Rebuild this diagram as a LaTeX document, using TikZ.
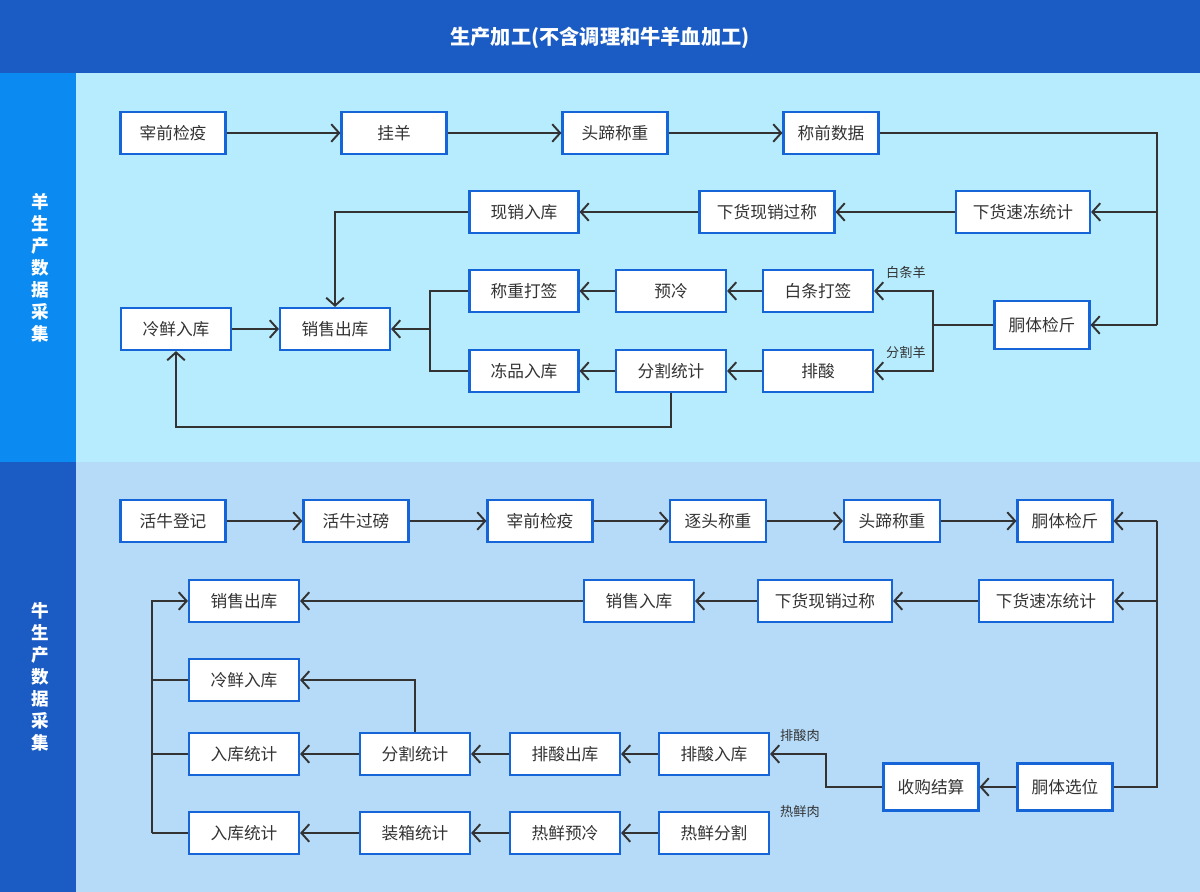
\documentclass[tikz,border=0pt]{standalone}
\usepackage{fontspec}
\setmainfont{Noto Sans CJK SC}
\usetikzlibrary{arrows.meta}
\definecolor{barblue}{HTML}{1A5BC4}
\definecolor{stripblue}{HTML}{0B8AF2}
\definecolor{skycyan}{HTML}{B6ECFD}
\definecolor{paleblue}{HTML}{B5DBF9}
\definecolor{boxline}{HTML}{1565D8}
\definecolor{wire}{HTML}{333333}
\tikzset{
  box/.style={draw=boxline, line width=1.2pt, fill=white, minimum width=2.1cm, minimum height=0.84cm, inner sep=1pt, text=wire, font=\fontsize{9.5}{11}\selectfont},
  flow/.style={draw=wire, line width=1.1pt, -{Straight Barb[length=4.5pt,width=10pt,line width=1.1pt]}},
  line/.style={draw=wire, line width=1.1pt},
  tag/.style={text=wire, font=\fontsize{7.5}{9}\selectfont}
}
\begin{document}
\begin{tikzpicture}[x=0.02cm,y=-0.02cm]
    \useasboundingbox (0,0) rectangle (1200,892);
    \fill[barblue] (0,0) rectangle (1200,73);
    \fill[stripblue] (0,73) rectangle (76,462);
    \fill[skycyan] (76,73) rectangle (1200,462);
    \fill[barblue] (0,462) rectangle (76,892);
    \fill[paleblue] (76,462) rectangle (1200,892);
    \node[text=white, font=\bfseries\fontsize{11.5}{13}\selectfont] (title) at (600,38) {生产加工(不含调理和牛羊血加工)};
    \node[text=white, align=center, font=\bfseries\fontsize{10}{12.5}\selectfont] (sheep) at (40,268) {羊\\生\\产\\数\\据\\采\\集};
    \node[text=white, align=center, font=\bfseries\fontsize{10}{12.5}\selectfont] (cattle) at (40,677) {牛\\生\\产\\数\\据\\采\\集};

    % sheep
    \node[box] at (173,133) (s1) {宰前检疫};
    \node[box] at (394,133) (s2) {挂羊};
    \node[box] at (615,133) (s3) {头蹄称重};
    \node[box, minimum width=1.9cm] at (831,133) (s4) {称前数据};
    \node[box, minimum width=2.68cm] at (1023,212) (s5) {下货速冻统计};
    \node[box, minimum width=2.7cm] at (767,212) (s6) {下货现销过称};
    \node[box, minimum width=2.18cm] at (524,212) (s7) {现销入库};
    \node[box, minimum width=2.18cm] at (524,291) (s8) {称重打签};
    \node[box, minimum width=2.2cm] at (671,291) (s9) {预冷};
    \node[box, minimum width=2.2cm] at (818,291) (s10) {白条打签};
    \node[box, minimum width=1.9cm, minimum height=0.96cm] at (1042,325) (s11) {胴体检斤};
    \node[box, minimum width=2.2cm] at (818,371) (s12) {排酸};
    \node[box, minimum width=2.2cm] at (671,371) (s13) {分割统计};
    \node[box, minimum width=2.18cm] at (524,371) (s14) {冻品入库};
    \node[box, minimum width=2.2cm] at (335,329) (s15) {销售出库};
    \node[box, minimum width=2.2cm] at (176,329) (s16) {冷鲜入库};
    \node[tag] at (906,272) (t3) {白条羊};
    \node[tag] at (906,352) (t4) {分割羊};
    \coordinate (sj) at (933,325);
    \coordinate (sk) at (430,329);

    \draw[flow] (s1) -- (s2);
    \draw[flow] (s2) -- (s3);
    \draw[flow] (s3) -- (s4);
    \draw[line] (s4.east) -| (1157,325);
    \draw[flow] (1157,325) -- (s11.east);
    \draw[flow] (1157,212) -- (s5.east);
    \draw[flow] (s5) -- (s6);
    \draw[flow] (s6) -- (s7);
    \draw[flow] (s7.west) -| (s15.north);
    \draw[line] (s11.west) -- (sj);
    \draw[flow] (sj) |- (s10.east);
    \draw[flow] (sj) |- (s12.east);
    \draw[flow] (s10) -- (s9);
    \draw[flow] (s9) -- (s8);
    \draw[flow] (s12) -- (s13);
    \draw[flow] (s13) -- (s14);
    \draw[line] (s8.west) -| (sk) |- (s14.west);
    \draw[flow] (sk) -- (s15.east);
    \draw[flow] (s16) -- (s15);
    \draw[flow] (s13.south) |- (176,427) -- (s16.south);

    % cattle
    \node[box] at (173,521) (c1) {活牛登记};
    \node[box] at (356,521) (c2) {活牛过磅};
    \node[box] at (540,521) (c3) {宰前检疫};
    \node[box, minimum width=1.92cm] at (718,521) (c4) {逐头称重};
    \node[box, minimum width=1.92cm] at (892,521) (c5) {头蹄称重};
    \node[box, minimum width=1.9cm] at (1065,521) (c6) {胴体检斤};
    \node[box, minimum width=2.68cm] at (1046,601) (c7) {下货速冻统计};
    \node[box, minimum width=2.68cm] at (825,601) (c8) {下货现销过称};
    \node[box, minimum width=2.2cm] at (639,601) (c9) {销售入库};
    \node[box, minimum width=2.2cm] at (244,601) (c10) {销售出库};
    \node[box, minimum width=2.2cm] at (244,680) (c11) {冷鲜入库};
    \node[box, minimum width=2.2cm] at (244,754) (c12) {入库统计};
    \node[box, minimum width=2.2cm] at (415,754) (c13) {分割统计};
    \node[box, minimum width=2.2cm] at (565,754) (c14) {排酸出库};
    \node[box, minimum width=2.2cm] at (714,754) (c15) {排酸入库};
    \node[box, minimum width=1.9cm, minimum height=0.94cm] at (931,787) (c16) {收购结算};
    \node[box, minimum width=1.9cm, minimum height=0.94cm] at (1065,787) (c17) {胴体选位};
    \node[box, minimum width=2.2cm] at (244,833) (c18) {入库统计};
    \node[box, minimum width=2.2cm] at (415,833) (c19) {装箱统计};
    \node[box, minimum width=2.2cm] at (565,833) (c20) {热鲜预冷};
    \node[box, minimum width=2.2cm] at (714,833) (c21) {热鲜分割};
    \node[tag] at (800,735) (t1) {排酸肉};
    \node[tag] at (800,812) (t2) {热鲜肉};
    \coordinate (cj) at (826,787);
    \coordinate (cb) at (152,833);

    \draw[flow] (c1) -- (c2);
    \draw[flow] (c2) -- (c3);
    \draw[flow] (c3) -- (c4);
    \draw[flow] (c4) -- (c5);
    \draw[flow] (c5) -- (c6);
    \draw[line] (c17.east) -| (1157,521);
    \draw[flow] (1157,521) -- (c6.east);
    \draw[flow] (1157,601) -- (c7.east);
    \draw[flow] (c7) -- (c8);
    \draw[flow] (c8) -- (c9);
    \draw[flow] (c9) -- (c10);
    \draw[flow] (c17) -- (c16);
    \draw[flow] (c16.west) -- (cj) |- (c15.east);
    \draw[flow] (c15) -- (c14);
    \draw[flow] (c14) -- (c13);
    \draw[flow] (c13) -- (c12);
    \draw[flow] (c13.north) |- (c11.east);
    \draw[flow] (c21) -- (c20);
    \draw[flow] (c20) -- (c19);
    \draw[flow] (c19) -- (c18);
    \draw[line] (c18.west) -- (cb);
    \draw[flow] (cb) |- (c10.west);
    \draw[line] (c11.west) -- (152,680);
    \draw[line] (c12.west) -- (152,754);
\end{tikzpicture}
\end{document}
